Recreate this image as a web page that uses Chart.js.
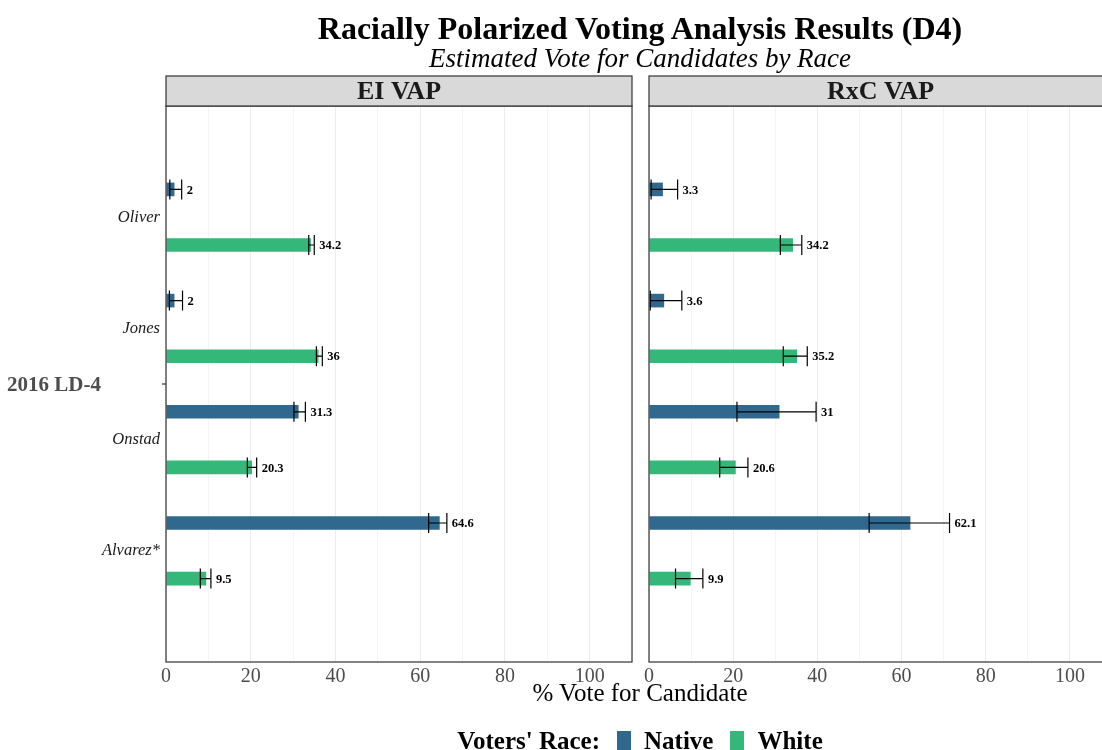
<!DOCTYPE html>
<html>
<head>
<meta charset="utf-8">
<script src="https://cdn.jsdelivr.net/npm/chart.js@4.4.1/dist/chart.umd.min.js"></script>
<style>
  html, body { margin: 0; padding: 0; background: #ffffff; }
  #wrap { position: relative; width: 1102px; height: 750px; overflow: hidden; font-family: "Liberation Serif", "Times New Roman", serif; }
  canvas { position: absolute; top: 0; }
  .txt { position: absolute; white-space: nowrap; color: #000; line-height: 1; }
  #title { left: 0; width: 1280px; top: 12px; text-align: center; font-weight: bold; font-size: 32px; }
  #subtitle { left: 0; width: 1280px; top: 45px; text-align: center; font-style: italic; font-size: 27px; }
  #xtitle { left: 0; width: 1280px; top: 680px; text-align: center; font-size: 25px; }
  #ylab { left: 7px; top: 374px; font-weight: bold; font-size: 21px; color: #4d4d4d; }
  #legend { left: 0; width: 1280px; top: 728px; text-align: center; font-weight: bold; font-size: 25px; }
  #legend .sw { display: inline-block; width: 14px; height: 20px; vertical-align: -2px; margin: 0 13px 0 17px; }
</style>
</head>
<body>
<div id="wrap">
  <canvas id="ei" width="640" height="750" style="left:0;width:640px;height:750px"></canvas>
  <canvas id="rxc" width="480" height="750" style="left:640px;width:480px;height:750px"></canvas>
  <div class="txt" id="title">Racially Polarized Voting Analysis Results (D4)</div>
  <div class="txt" id="subtitle">Estimated Vote for Candidates by Race</div>
  <div class="txt" id="ylab">2016 LD-4</div>
  <div class="txt" id="xtitle">% Vote for Candidate</div>
  <div class="txt" id="legend"></div>
</div>
<script>
// Candidates, top to bottom
const candidates = ['Oliver', 'Jones', 'Onstad', 'Alvarez*'];
const races = ['Native', 'White'];
const raceColors = ['#31688E', '#35B779'];
const xTicks = [0, 20, 40, 60, 80, 100];

// EI VAP estimates (% vote) with confidence bounds
const eiNative      = [2.0, 2.0, 31.3, 64.6];
const eiNativeLow   = [0.9, 0.8, 30.2, 62.0];
const eiNativeHigh  = [3.7, 3.9, 32.9, 66.3];
const eiWhite       = [34.2, 36.0, 20.3, 9.5];
const eiWhiteLow    = [33.7, 35.5, 19.2, 8.1];
const eiWhiteHigh   = [35.0, 36.9, 21.4, 10.6];

// RxC VAP estimates (% vote) with confidence bounds
const rxcNative     = [3.3, 3.6, 31.0, 62.1];
const rxcNativeLow  = [0.5, 0.3, 20.9, 52.3];
const rxcNativeHigh = [6.8, 7.8, 39.7, 71.4];
const rxcWhite      = [34.2, 35.2, 20.6, 9.9];
const rxcWhiteLow   = [31.2, 31.9, 16.8, 6.3];
const rxcWhiteHigh  = [36.3, 37.6, 23.5, 12.8];

// legend
const legendEl = document.getElementById('legend');
legendEl.innerHTML = "Voters' Race:" + races.map((r, i) =>
  '<span class="sw" style="background:' + raceColors[i] + '"></span>' + r).join('');

// one blank slot above and below the candidate rows
const pad = arr => [null, ...arr, null];
const yLabels = ['', ...candidates, ''];

const panelPlugin = {
  id: 'panel',
  beforeDraw(chart) {
    const { ctx, chartArea: a } = chart;
    ctx.save();
    ctx.fillStyle = '#ffffff';
    ctx.fillRect(a.left, a.top, a.right - a.left, a.bottom - a.top);
    ctx.restore();
  },
  afterDatasetsDraw(chart, args, opts) {
    const { ctx, chartArea: a } = chart;
    const xs = chart.scales.x;
    ctx.save();
    // error bars and value labels
    chart.data.datasets.forEach((ds, di) => {
      const meta = chart.getDatasetMeta(di);
      meta.data.forEach((el, i) => {
        if (ds.data[i] == null) return;
        const lo = xs.getPixelForValue(ds.low[i]);
        const hi = xs.getPixelForValue(ds.high[i]);
        const y = el.y;
        ctx.strokeStyle = '#000';
        ctx.lineWidth = 1.2;
        ctx.beginPath();
        ctx.moveTo(lo, y); ctx.lineTo(hi, y);
        ctx.moveTo(lo, y - 10); ctx.lineTo(lo, y + 10);
        ctx.moveTo(hi, y - 10); ctx.lineTo(hi, y + 10);
        ctx.stroke();
        ctx.fillStyle = '#000';
        ctx.font = 'bold 12.5px "Liberation Serif"';
        ctx.textAlign = 'left';
        ctx.textBaseline = 'middle';
        ctx.fillText(String(ds.data[i]), hi + 5, y + 1);
      });
    });
    // panel border
    ctx.strokeStyle = '#333333';
    ctx.lineWidth = 1.2;
    ctx.strokeRect(a.left, a.top, a.right - a.left, a.bottom - a.top);
    // strip
    ctx.fillStyle = '#d9d9d9';
    ctx.fillRect(a.left, a.top - 30, a.right - a.left, 30);
    ctx.strokeRect(a.left, a.top - 30, a.right - a.left, 30);
    ctx.fillStyle = '#1a1a1a';
    ctx.font = 'bold 26px "Liberation Serif"';
    ctx.textAlign = 'center';
    ctx.textBaseline = 'middle';
    ctx.fillText(opts.strip, (a.left + a.right) / 2, a.top - 14);
    // axis tick for the election row
    if (opts.rowTick) {
      const ym = (a.top + a.bottom) / 2;
      ctx.strokeStyle = '#333333';
      ctx.beginPath();
      ctx.moveTo(a.left - 4, ym); ctx.lineTo(a.left, ym);
      ctx.stroke();
    }
    ctx.restore();
  }
};

function makePanel(id, strip, nat, natLo, natHi, wht, whtLo, whtHi, yWidth, showNames) {
  return new Chart(document.getElementById(id), {
    type: 'bar',
    data: {
      labels: yLabels,
      datasets: [
        { label: races[0], data: pad(nat), low: pad(natLo), high: pad(natHi), backgroundColor: raceColors[0] },
        { label: races[1], data: pad(wht), low: pad(whtLo), high: pad(whtHi), backgroundColor: raceColors[1] }
      ]
    },
    options: {
      indexAxis: 'y',
      responsive: false,
      animation: false,
      events: [],
      layout: { padding: { top: 106, left: 0, right: 8, bottom: 0 } },
      datasets: { bar: { categoryPercentage: 1.0, barPercentage: 0.245 } },
      plugins: {
        legend: { display: false },
        tooltip: { enabled: false },
        panel: { strip: strip, rowTick: showNames }
      },
      scales: {
        x: {
          type: 'linear', min: 0, max: 110,
          afterFit: s => { s.height = 88; },
          afterBuildTicks: s => { s.ticks = Array.from({ length: 12 }, (_, k) => ({ value: k * 10 })); },
          grid: {
            drawTicks: false,
            color: c => (c.tick && c.tick.value % 20 === 0) ? '#ececec' : '#f5f5f5',
            lineWidth: 1
          },
          border: { display: false },
          ticks: {
            autoSkip: false, maxRotation: 0, padding: 3, color: '#4d4d4d',
            font: { family: 'Liberation Serif', size: 20 },
            callback: v => xTicks.includes(v) ? String(v) : ''
          }
        },
        y: {
          type: 'category', offset: false,
          afterFit: s => { s.width = yWidth; },
          grid: { display: false, drawTicks: false },
          border: { display: false },
          ticks: {
            display: showNames, autoSkip: false, padding: 6, color: '#1a1a1a',
            font: { family: 'Liberation Serif', size: 16.5, style: 'italic' }
          }
        }
      }
    },
    plugins: [panelPlugin]
  });
}

makePanel('ei', 'EI VAP', eiNative, eiNativeLow, eiNativeHigh, eiWhite, eiWhiteLow, eiWhiteHigh, 166, true);
makePanel('rxc', 'RxC VAP', rxcNative, rxcNativeLow, rxcNativeHigh, rxcWhite, rxcWhiteLow, rxcWhiteHigh, 9, false);
</script>
</body>
</html>
